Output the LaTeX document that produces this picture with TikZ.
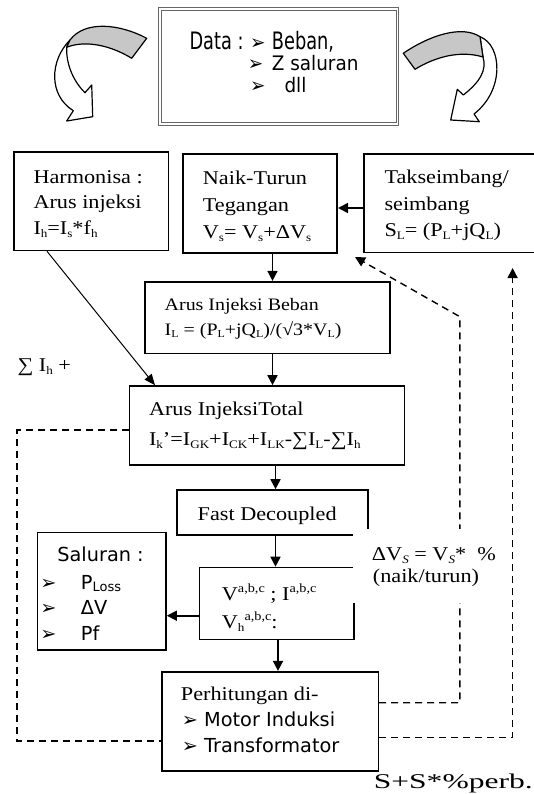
\documentclass[tikz,border=0pt]{standalone}
\usepackage{fontspec}
\usepackage{graphicx}
\setmainfont{Liberation Serif}[FakeStretch=1.14]
\newfontfamily\sansb{DejaVu Sans}
\newfontfamily\datafontA{DejaVu Sans}[FakeStretch=0.74]
\newfontfamily\datafontB{DejaVu Sans}[FakeStretch=0.92]
\usetikzlibrary{arrows.meta,fit}
\newcommand\fsmain{\fontsize{19.5pt}{24pt}\selectfont}
\newcommand\fsaib{\fontsize{17.5pt}{22pt}\selectfont}
\newcommand\fssans{\sansb\fontsize{19.3pt}{24pt}\selectfont}
\newcommand\fsdataA{\datafontA\fontsize{24pt}{28pt}\selectfont}
\newcommand\fsdataB{\datafontB\fontsize{20pt}{24pt}\selectfont}
\newcommand\blt{➢}
% small sub/superscripts
\newcommand\sbs[1]{\raisebox{-3pt}{\fontsize{11.5pt}{11.5pt}\selectfont #1}}
\newcommand\sbq[1]{\raisebox{-2.6pt}{\fontsize{10.5pt}{10.5pt}\selectfont #1}}
\newcommand\sps[1]{\raisebox{7.5pt}{\fontsize{12.5pt}{12.5pt}\selectfont #1}}
\begin{document}
\begin{tikzpicture}[x=1pt,y=-1pt,
  box/.style={draw, line width=1.6pt, inner sep=0pt},
  hole/.style={inner sep=0pt},
  txt/.style={anchor=base west, inner sep=0pt, font=\fsmain},
  stxt/.style={anchor=base west, inner sep=0pt, font=\fssans},
  dtxtA/.style={anchor=base west, inner sep=0pt, font=\fsdataA},
  dtxtB/.style={anchor=base west, inner sep=0pt, font=\fsdataB},
  arr/.style={line width=1.6pt, -{Triangle[length=10pt,width=10pt]}},
  dsh/.style={line width=1.4pt, dash pattern=on 7pt off 5pt},
  dsharr/.style={dsh, -{Triangle[length=10pt,width=10pt]}},
  curv/.style={line width=1.2pt, line join=round}]
\useasboundingbox (0,0) rectangle (534,794);

% curved block arrows
\draw[curv, fill=white] (70,40) .. controls (50,60) and (48,95) .. (73.3,110.7) -- (66.7,121) -- (92.7,116.7) -- (91.7,85) -- (85,92.7) .. controls (72,80) and (66,62) .. (66.7,47.3) -- cycle;
\draw[curv, fill=black!22] (146.7,38.3) .. controls (120,24) and (85,20) .. (70,40) -- (66.7,47.3) .. controls (85,40) and (110,45) .. (131.7,58.3) -- cycle;
\draw[curv, fill=white] (480,36.7) .. controls (502,45) and (505,90) .. (474,114) -- (479.3,121.7) -- (450.7,120) -- (457.3,89.3) -- (463.3,95) .. controls (480,82) and (487,70) .. (483,57) -- cycle;
\draw[curv, fill=black!22] (403.3,53.3) .. controls (430,35) and (462,25) .. (480,36.7) -- (483,57) .. controls (460,50) and (435,57) .. (415,69.3) -- cycle;

% data box
\node[draw=black!60, line width=0.9pt, inner sep=0pt, fit={(158.3,7.7) (398.3,125)}] (data) {};
\node[draw=black!60, line width=0.9pt, inner sep=0pt, fit={(161,10) (396,122.7)}] (datain) {};
\node[dtxtA] (d1) at (189.3,50) {Data :};
\node[dtxtB] (d2) at (250,50) {\blt};
\node[dtxtA] (d3) at (271.7,50) {Beban,};
\node[dtxtB] (d4) at (247.7,71) {\blt};
\node[dtxtB] (d5) at (271.7,71) {Z saluran};
\node[dtxtB] (d6) at (250,93) {\blt};
\node[dtxtB] (d7) at (284.3,93) {dll};

% boxes
\node[box, fit={(14,152.3) (168.3,250.5)}] (harm) {};
\node[box, fit={(183.2,154) (337.2,252.7)}] (naik) {};
\node[hole, fit={(364.3,154.3) (545,252.3)}] (taks) {};
\draw[line width=1.6pt] (taks.north east) -- (taks.north west) -- (taks.south west) -- (taks.south east);
\node[box, fit={(144.8,281.7) (390,353.3)}] (aib) {};
\node[box, fit={(129.3,386) (404.6,465)}] (tot) {};
\node[box, fit={(177,490) (368,535)}] (fast) {};
\node[box, fit={(37.5,532.3) (166,650)}] (sal) {};
\node[box, fit={(199.3,567.5) (354,639.5)}] (vbox) {};
\node[box, fit={(161.7,671.7) (378.3,770.7)}] (perh) {};

% helper coordinates
\coordinate (y208) at (0,208);
\coordinate (xA) at (272.5,0);
\coordinate (xB) at (275.5,0);
\coordinate (xC) at (278,0);
\coordinate (yV) at (0,615.7);
\coordinate (xH) at (47,0);
\coordinate (xT) at (155,0);
\coordinate (y430) at (0,430);
\coordinate (y741) at (0,741);
\coordinate (y703) at (0,702.7);
\coordinate (y738) at (0,737.7);
\coordinate (tipA) at (355,257);
\coordinate (tipB) at (512.6,268);

% solid connectors
\draw[arr] (taks.west |- y208) -- (naik.east |- y208);
\draw[arr] (naik.south -| xA) -- (aib.north -| xA);
\draw[arr] (aib.south -| xA) -- (tot.north -| xA);
\draw[arr] (tot.south -| xB) -- (fast.north -| xB);
\draw[arr] (fast.south -| xB) -- (vbox.north -| xB);
\draw[arr] (vbox.south -| xC) -- (perh.north -| xC);
\draw[arr] (vbox.west |- yV) -- (sal.east |- yV);
\draw[line width=1pt, -{Triangle[length=11pt,width=9pt]}] (harm.south -| xH) -- (tot.north -| xT);

% dashed connectors
\draw[dsh] (tot.west |- y430) -- (17,430) -- (17,741) -- (perh.west |- y741);
\draw[dsharr] (perh.east |- y703) -- (459.8,702.7) -- (459.8,316.7) -- (tipA);
\draw[dsharr] (perh.east |- y738) -- (512.6,737.7) -- (tipB);

% label with white background
\node[fill=white, inner sep=0pt, fit={(352.5,529) (498,603)}] (lbl) {};
\node[txt] (l1) at (371.7,560) {ΔV\sbs{\textit{S}} = V\sbs{\textit{S}}*\ \ \%};
\node[txt] (l2) at (372.7,582) {(naik/turun)};

% texts
\node[txt] (h1) at (33.3,184) {Harmonisa :};
\node[txt] (h2) at (33.3,209) {Arus injeksi};
\node[txt] (h3) at (33.3,234) {I\sbs{h}=I\sbs{s}*f\sbs{h}};

\node[txt] (n1) at (202.7,185) {Naik-Turun};
\node[txt] (n2) at (202.7,211.7) {Tegangan};
\node[txt] (n3) at (202.7,238.3) {V\sbs{s}= V\sbs{s}+ΔV\sbs{s}};

\node[txt] (k1) at (384.3,183.3) {Takseimbang/};
\node[txt] (k2) at (384.3,211) {seimbang};
\node[txt] (k3) at (384.3,236.7) {S\sbs{L}= (P\sbs{L}+jQ\sbs{L})};

\node[txt, font=\fsaib] (a1) at (164.5,310) {Arus Injeksi Beban};
\node[txt, font=\fsaib] (a2) at (164.5,335) {I\sbq{L} = (P\sbq{L}+jQ\sbq{L})/(√3*V\sbq{L})};

\node[txt] (sig) at (17.3,371.7) {∑ I\sbs{h} +};

\node[txt] (t1) at (148.8,415) {Arus InjeksiTotal};
\node[txt] (t2) at (148.8,445) {I\sbs{k}’=I\sbs{GK}+I\sbs{CK}+I\sbs{LK}-∑I\sbs{L}-∑I\sbs{h}};

\node[txt] (f1) at (197.5,520) {Fast Decoupled};

\node[txt] (v1) at (221.7,600) {V\sps{a,b,c} ; I\sps{a,b,c}};
\node[txt] (v2) at (221.7,628) {V\sbs{h}\sps{a,b,c}:};

\node[stxt] (s1) at (57.2,561.7) {Saluran :};
\node[stxt] (s2) at (40.2,589.3) {\blt};
\node[stxt] (s3) at (80.7,589.3) {P\raisebox{-2pt}{\fontsize{13pt}{13pt}\selectfont Loss}};
\node[stxt] (s4) at (40.2,614) {\blt};
\node[stxt] (s5) at (80.7,614) {ΔV};
\node[stxt] (s6) at (40.2,640) {\blt};
\node[stxt] (s7) at (80.7,640) {Pf};

\node[txt] (p1) at (180.7,700.7) {Perhitungan di-};
\node[stxt] (p2) at (181.7,726.7) {\blt\ Motor Induksi};
\node[stxt] (p3) at (181.7,752.7) {\blt\ Transformator};

\node[txt, anchor=base east, font=\fontsize{21pt}{24pt}\selectfont] (sp) at (533,788) {\resizebox{159pt}{\height}{S+S*\%perb.}};
\end{tikzpicture}
\end{document}
